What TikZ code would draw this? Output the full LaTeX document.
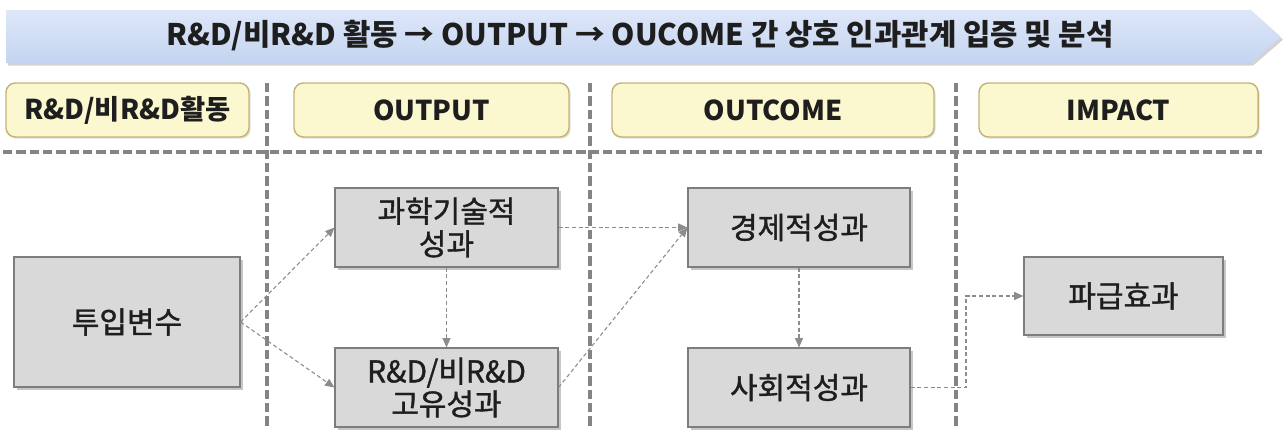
\documentclass[tikz,border=0pt]{standalone}
\usepackage{fontspec}
\setmainfont{Noto Sans CJK KR}
\newfontfamily\boxfont[FakeBold=1.2]{Noto Sans CJK KR}
\usetikzlibrary{shadows,arrows.meta,calc}
\definecolor{bannertop}{RGB}{222,231,249}
\definecolor{bannerbot}{RGB}{196,212,240}
\definecolor{hdrfill}{RGB}{251,248,208}
\definecolor{hdrline}{RGB}{196,180,118}
\definecolor{boxfill}{RGB}{217,217,217}
\definecolor{boxline}{RGB}{125,125,125}
\definecolor{sepline}{RGB}{132,132,132}
\definecolor{arrline}{RGB}{140,140,140}
\definecolor{txt}{RGB}{30,30,30}
\begin{document}
\begin{tikzpicture}[x=0.75pt,y=-0.75pt,
  hdr/.style={draw=hdrline, line width=1.1pt, fill=hdrfill, rounded corners=7pt,
    minimum height=40.5pt, inner sep=0pt, font=\fontsize{20.5}{24}\selectfont\bfseries, text=txt,
    drop shadow={opacity=0.25, shadow xshift=1.2pt, shadow yshift=-1.2pt}},
  gbox/.style={draw=boxline, line width=0.8pt, fill=boxfill, inner sep=0pt, align=center,
    font=\boxfont\fontsize{22.5}{24.5}\selectfont, text=txt,
    drop shadow={opacity=0.45, shadow xshift=2pt, shadow yshift=-2pt}},
  sep/.style={draw=sepline, line width=2.3pt, dash pattern=on 7pt off 3pt},
  conn/.style={draw=arrline, line width=0.8pt, dash pattern=on 3pt off 2pt,
    -{Triangle[length=7pt,width=6pt]}}
]
\useasboundingbox (0,0) rectangle (1284,429);

% banner
\shade[top color=bannertop, bottom color=bannerbot,
  drop shadow={opacity=0.35, shadow xshift=1.5pt, shadow yshift=-2pt}]
  (6,10) -- (1251,10) -- (1281,37) -- (1251,63) -- (6,63) -- cycle;
\node[font=\fontsize{22.3}{26}\selectfont\bfseries, text=txt] (banner) at (640,36)
  {R\&D/비R\&D 활동 → OUTPUT → OUCOME 간 상호 인과관계 입증 및 분석};

% separators
\draw[sep] (3,152) -- (1262,152);
\coordinate (v1t) at (267,83); \coordinate (v1b) at (267,429);
\coordinate (v2t) at (590,83); \coordinate (v2b) at (590,429);
\coordinate (v3t) at (956,83); \coordinate (v3b) at (956,429);
\draw[sep] (v1t) -- (v1b);
\draw[sep] (v2t) -- (v2b);
\draw[sep] (v3t) -- (v3b);

% headers
\node[hdr, minimum width=182.25pt] (h1) at (127.5,110) {R\&D/비R\&D활동};
\node[hdr, minimum width=206.25pt] (h2) at (431.5,110) {OUTPUT};
\node[hdr, minimum width=241.5pt]  (h3) at (773,110) {OUTCOME};
\node[hdr, minimum width=209.25pt] (h4) at (1118.5,110) {IMPACT};

% boxes
\node[gbox, minimum width=169.5pt, minimum height=97.5pt] (in) at (127,322) {투입변수};
\node[gbox, minimum width=167.25pt, minimum height=59.25pt] (sci) at (446.5,227.5) {과학기술적\\성과};
\node[gbox, minimum width=167.25pt, minimum height=59.25pt] (rnd) at (446.5,387.5) {R\&D/비R\&D\\고유성과};
\node[gbox, minimum width=166.5pt, minimum height=59.25pt] (eco) at (799,227.5) {경제적성과};
\node[gbox, minimum width=166.5pt, minimum height=59.25pt] (soc) at (799,387.5) {사회적성과};
\node[gbox, minimum width=149.25pt, minimum height=58.5pt] (imp) at (1123.5,296) {파급효과};

% connectors
\draw[conn] (in.east) -- (sci.west);
\draw[conn] (in.east) -- (rnd.west);
\draw[conn] (sci.south) -- (rnd.north);
\draw[conn] (sci.east) -- (eco.west);
\draw[conn] (rnd.east) -- (eco.west);
\draw[conn] (eco.south) -- (soc.north);
\coordinate (bend) at (966,387.5);
\draw[conn] (soc.east) -- (bend) |- (imp.west);
\end{tikzpicture}
\end{document}
